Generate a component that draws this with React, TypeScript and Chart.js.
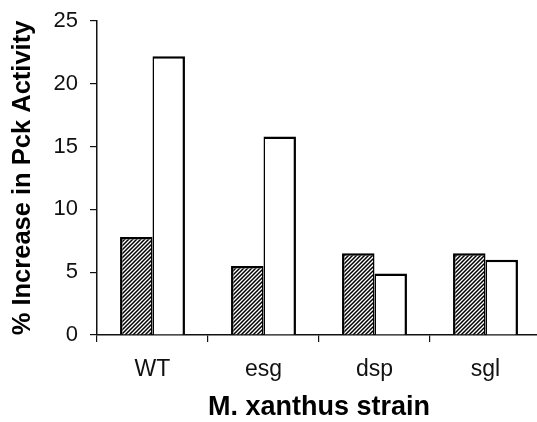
import React, { useEffect, useRef } from "react";
import { Chart, registerables } from "chart.js";

Chart.register(...registerables);

const categories = ["WT", "esg", "dsp", "sgl"];
const hatchedValues = [7.8, 5.5, 6.5, 6.5];
const openValues = [22.2, 15.8, 4.9, 6.0];
const yTicks = [0, 5, 10, 15, 20, 25];
const yTitle = "% Increase in Pck Activity";
const xTitle = "M. xanthus strain";

const FONT = "'Liberation Sans', Arial, Helvetica, sans-serif";

function makeHatch(): CanvasPattern | string {
  const c = document.createElement("canvas");
  c.width = 4;
  c.height = 4;
  const ctx = c.getContext("2d");
  if (!ctx) return "#555";
  ctx.fillStyle = "#ffffff";
  ctx.fillRect(0, 0, 4, 4);
  ctx.strokeStyle = "#000000";
  ctx.lineWidth = 1.5;
  ctx.beginPath();
  ctx.moveTo(0, 4);
  ctx.lineTo(4, 0);
  ctx.moveTo(-1, 1);
  ctx.lineTo(1, -1);
  ctx.moveTo(3, 5);
  ctx.lineTo(5, 3);
  ctx.stroke();
  const p = ctx.createPattern(c, "repeat");
  return p || "#555";
}

export default function App() {
  const ref = useRef<HTMLCanvasElement | null>(null);

  useEffect(() => {
    if (!ref.current) return;
    const hatch = makeHatch();
    const chart = new Chart(ref.current, {
      type: "bar",
      data: {
        labels: categories,
        datasets: [
          {
            data: hatchedValues,
            backgroundColor: hatch as any,
            borderColor: "#000",
            borderWidth: { top: 2.5, left: 2.5, right: 1.5, bottom: 0 } as any,
            borderSkipped: false,
            barPercentage: 1,
            categoryPercentage: 0.585,
          },
          {
            data: openValues,
            backgroundColor: "#fff",
            borderColor: "#000",
            borderWidth: { top: 2.5, left: 1.5, right: 2.5, bottom: 0 } as any,
            borderSkipped: false,
            barPercentage: 1,
            categoryPercentage: 0.585,
          },
        ],
      },
      options: {
        animation: false,
        responsive: true,
        maintainAspectRatio: false,
        layout: { padding: { top: 21, left: 0, right: 4, bottom: 0 } },
        plugins: {
          legend: { display: false },
          tooltip: { enabled: false },
        },
        scales: {
          x: {
            grid: {
              display: true,
              drawOnChartArea: false,
              drawTicks: true,
              tickLength: 7,
              color: "#111",
              lineWidth: 1.2,
              offset: true,
            },
            border: { display: true, color: "#111", width: 1.5 },
            ticks: {
              color: "#111",
              padding: 14,
              font: { family: FONT, size: 23 },
              maxRotation: 0,
            },
            title: {
              display: true,
              text: xTitle,
              color: "#000",
              font: { family: FONT, size: 27, weight: "bold", lineHeight: 1 },
              padding: { top: 0, bottom: 1 },
            },
            afterFit: (scale: any) => {
              scale.height = 87;
              scale.paddingLeft = 0;
              scale.paddingRight = 0;
            },
          },
          y: {
            min: 0,
            max: 25,
            afterBuildTicks: (scale: any) => {
              scale.ticks = yTicks.map((v) => ({ value: v }));
            },
            grid: {
              display: true,
              drawOnChartArea: false,
              drawTicks: true,
              tickLength: 7,
              color: "#111",
              lineWidth: 1.2,
            },
            border: { display: true, color: "#111", width: 1.5 },
            ticks: {
              color: "#111",
              padding: 12,
              font: { family: FONT, size: 22 },
            },
            title: {
              display: true,
              text: yTitle,
              color: "#000",
              font: { family: FONT, size: 25.5, weight: "bold", lineHeight: 1 },
              padding: { top: 10, bottom: 0 },
            },
            afterFit: (scale: any) => {
              scale.width = 97;
              scale.paddingTop = 0;
              scale.paddingBottom = 0;
            },
          },
        },
      },
    });
    return () => chart.destroy();
  }, []);

  return (
    <div
      style={{
        position: "fixed",
        left: 0,
        top: 0,
        width: 537,
        height: 422,
        overflow: "hidden",
        background: "#fff",
      }}
    >
      <div style={{ position: "relative", width: 545, height: 422 }}>
        <canvas ref={ref} />
      </div>
    </div>
  );
}
